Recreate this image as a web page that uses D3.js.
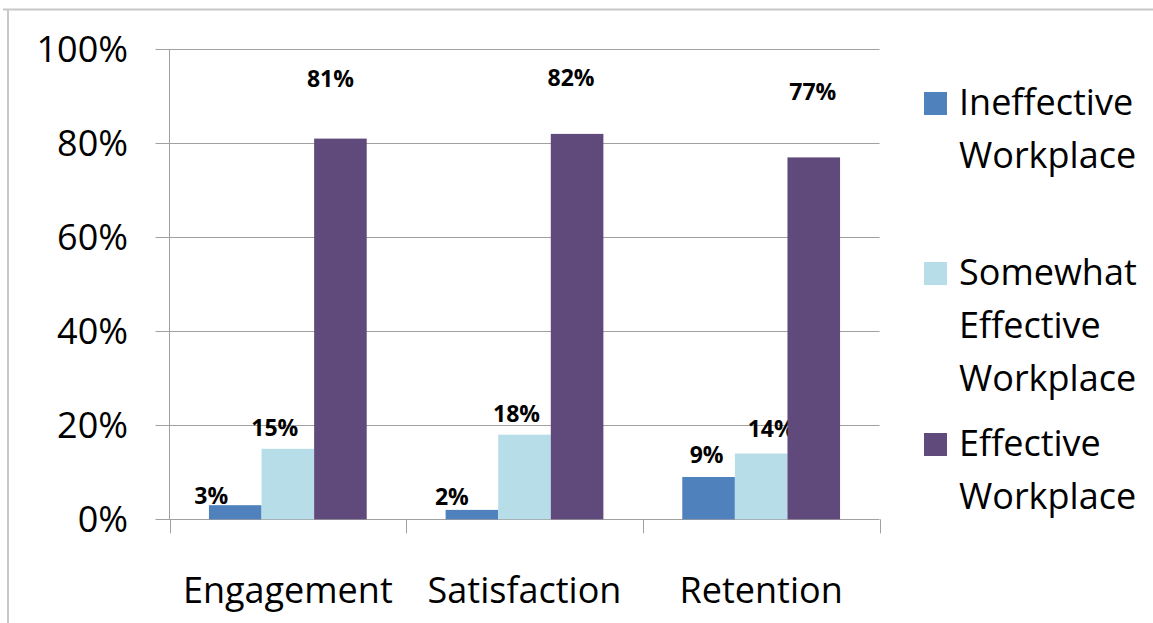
<!DOCTYPE html>
<html>
<head>
<meta charset="utf-8">
<script src="https://cdn.jsdelivr.net/npm/d3@7"></script>
<style>
  html, body { margin: 0; padding: 0; background: #fff; }
  svg { display: block; font-family: "Open Sans", "Noto Sans", sans-serif; }
</style>
</head>
<body>
<svg id="chart" width="1153" height="623"></svg>
<script>
const categories = ["Engagement", "Satisfaction", "Retention"];
const seriesNames = [
  ["Ineffective", "Workplace"],
  ["Somewhat", "Effective", "Workplace"],
  ["Effective", "Workplace"]
];
const ineffective = [3, 2, 9];
const somewhatEffective = [15, 18, 14];
const effective = [81, 82, 77];
const yTicks = [0, 20, 40, 60, 80, 100];
const colors = ["#4F81BD", "#B7DEE8", "#604A7B"];
// label nudges (px) relative to default spot above each bar [series][category]
const labelNudgeX = [[-24, -20, -2], [-13, -8, 10], [-10, -6, -1]];
const labelNudgeY = [[-1, -5, -14], [-13, -13, -17], [-52, -48, -57]];

const series = [ineffective, somewhatEffective, effective];

const svg = d3.select("#chart");

// outer frame lines
svg.append("line").attr("x1", 3).attr("x2", 1153).attr("y1", 9.5).attr("y2", 9.5)
  .attr("stroke", "#c8c8c8").attr("stroke-width", 2);
svg.append("line").attr("x1", 8).attr("x2", 8).attr("y1", 9).attr("y2", 623)
  .attr("stroke", "#c8c8c8").attr("stroke-width", 2);

const plot = { left: 169.5, right: 879.5, top: 49.3, bottom: 519.3 };

const x = d3.scaleBand().domain(categories).range([plot.left, plot.right]).paddingInner(0).paddingOuter(0);
const y = d3.scaleLinear().domain([0, 100]).range([plot.bottom, plot.top]);
const barW = x.bandwidth() / 4.5;
const xs = d3.scaleBand().domain(d3.range(series.length)).range([-1.5 * barW, 1.5 * barW]);

// gridlines
svg.append("g").selectAll("line").data(yTicks).join("line")
  .attr("x1", plot.left - 14).attr("x2", plot.right)
  .attr("y1", d => Math.round(y(d)) + 0.5).attr("y2", d => Math.round(y(d)) + 0.5)
  .attr("stroke", "#a0a0a0").attr("stroke-width", 1);

// y axis line
svg.append("line").attr("x1", plot.left).attr("x2", plot.left)
  .attr("y1", plot.top).attr("y2", plot.bottom)
  .attr("stroke", "#a0a0a0").attr("stroke-width", 1);

// y tick labels
svg.append("g").selectAll("text").data(yTicks).join("text")
  .attr("x", 128).attr("y", d => y(d) + 13)
  .attr("text-anchor", "end")
  .attr("font-size", 36).attr("fill", "#000")
  .text(d => d + "%");

// category tick marks
const catEdges = categories.map(c => x(c)).concat([plot.right]);
svg.append("g").selectAll("line").data(catEdges).join("line")
  .attr("x1", d => Math.round(d) + 0.5).attr("x2", d => Math.round(d) + 0.5)
  .attr("y1", plot.bottom).attr("y2", plot.bottom + 14)
  .attr("stroke", "#a0a0a0").attr("stroke-width", 1);

// category labels
svg.append("g").selectAll("text").data(categories).join("text")
  .attr("x", d => x(d) + x.bandwidth() / 2).attr("y", 603)
  .attr("text-anchor", "middle").attr("font-size", 36).attr("fill", "#000")
  .text(d => d);

// bars
series.forEach((vals, si) => {
  const g = svg.append("g");
  g.selectAll("rect").data(vals).join("rect")
    .attr("x", (d, i) => x(categories[i]) + x.bandwidth() / 2 + xs(si))
    .attr("width", barW)
    .attr("y", d => y(d))
    .attr("height", d => plot.bottom - y(d))
    .attr("fill", colors[si]);
  g.selectAll("text").data(vals).join("text")
    .attr("x", (d, i) => x(categories[i]) + x.bandwidth() / 2 + xs(si) + barW / 2 + labelNudgeX[si][i])
    .attr("y", (d, i) => y(d) + labelNudgeY[si][i])
    .attr("text-anchor", "middle")
    .attr("font-size", 23).attr("font-weight", "bold").attr("fill", "#000")
    .text(d => d + "%");
});

// legend
const legendTops = [88, 258, 429];
const legend = svg.append("g");
seriesNames.forEach((lines, si) => {
  legend.append("rect")
    .attr("x", 924).attr("y", legendTops[si] + 4)
    .attr("width", 23).attr("height", 23)
    .attr("fill", colors[si]);
  legend.append("text")
    .attr("x", 959).attr("y", legendTops[si] + 27)
    .attr("font-size", 36).attr("fill", "#000")
    .selectAll("tspan").data(lines).join("tspan")
    .attr("x", 959).attr("dy", (d, i) => i === 0 ? 0 : 53)
    .text(d => d);
});
</script>
</body>
</html>
